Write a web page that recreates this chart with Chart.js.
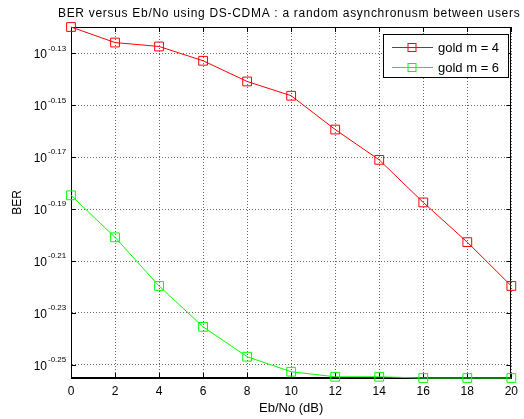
<!DOCTYPE html>
<html>
<head>
<meta charset="utf-8">
<script src="https://cdn.jsdelivr.net/npm/chart.js@4.4.0/dist/chart.umd.min.js"></script>
<style>
    html, body { margin: 0; padding: 0; background: #fff; }
</style>
</head>
<body>
<canvas id="berChart" width="524" height="419"></canvas>
<script>
// Eb/No in dB (x axis)
const ebNo = [0, 2, 4, 6, 8, 10, 12, 14, 16, 18, 20];
// BER
const berGoldM4 = [0.7589, 0.7485, 0.7459, 0.7365, 0.7231, 0.7140, 0.6929, 0.6745, 0.6495, 0.6270, 0.6031];
const berGoldM6 = [0.6536, 0.6297, 0.6031, 0.5816, 0.5664, 0.5589, 0.5564, 0.5564, 0.5558, 0.5558, 0.5558];
const seriesLabels = ['gold m = 4', 'gold m = 6'];
// y ticks are 10^exponent
const yTickExponents = [-0.13, -0.15, -0.17, -0.19, -0.21, -0.23, -0.25];
const chartTitle = 'BER versus Eb/No using DS-CDMA : a random asynchronusm between users';

const FONT = 'Liberation Sans, Arial, Helvetica, sans-serif';

function toPoints(ys) {
    return ebNo.map((x, i) => ({ x: x, y: ys[i] }));
}

// draws the matlab style box, inner ticks, title, y tick labels and the legend
const matlabFrame = {
    id: 'matlabFrame',
    beforeDatasetsDraw(chart) {
        const { ctx, chartArea: a, scales } = chart;
        ctx.save();
        ctx.strokeStyle = '#000';
        ctx.lineWidth = 1;
        ctx.strokeRect(Math.round(a.left) + 0.5, Math.round(a.top) + 0.5,
            Math.round(a.right - a.left) - 1, Math.round(a.bottom - a.top) - 1);
        const tl = 5;
        ctx.beginPath();
        scales.x.ticks.forEach(t => {
            const px = Math.round(scales.x.getPixelForValue(t.value)) + 0.5;
            ctx.moveTo(px, a.bottom); ctx.lineTo(px, a.bottom - tl);
            ctx.moveTo(px, a.top); ctx.lineTo(px, a.top + tl);
        });
        scales.y.ticks.forEach(t => {
            const py = Math.round(scales.y.getPixelForValue(t.value)) + 0.5;
            ctx.moveTo(a.left, py); ctx.lineTo(a.left + tl, py);
            ctx.moveTo(a.right, py); ctx.lineTo(a.right - tl, py);
        });
        ctx.stroke();
        ctx.restore();
    },
    afterDraw(chart) {
        const { ctx, chartArea: a, scales } = chart;
        ctx.save();
        ctx.fillStyle = '#000';

        // title, slightly spaced out like the matlab render
        ctx.font = '12px ' + FONT;
        ctx.letterSpacing = '0.7px';
        ctx.textAlign = 'center';
        ctx.textBaseline = 'middle';
        ctx.fillText(chartTitle, (a.left + a.right) / 2 - 2, 13.5);
        ctx.letterSpacing = '0px';

        // y tick labels as 10^x
        scales.y.ticks.forEach((t, i) => {
            const py = scales.y.getPixelForValue(t.value);
            const right = a.left - 24;
            ctx.font = '12px ' + FONT;
            ctx.textAlign = 'right';
            ctx.textBaseline = 'middle';
            ctx.fillText('10', right, py + 1.5);
            ctx.font = '8px ' + FONT;
            ctx.textAlign = 'left';
            ctx.fillText(yTickExponents[i].toFixed(2), right + 1, py - 5);
        });

        // legend
        const bx = 383, by = 34, bw = 125, bh = 43;
        ctx.fillStyle = '#fff';
        ctx.fillRect(bx, by, bw, bh);
        ctx.strokeStyle = '#000';
        ctx.lineWidth = 1;
        ctx.strokeRect(bx + 0.5, by + 0.5, bw, bh);
        chart.data.datasets.forEach((ds, i) => {
            const ry = Math.round(by + 12.5 + i * 20) + 0.5;
            ctx.strokeStyle = ds.borderColor;
            ctx.beginPath();
            ctx.moveTo(bx + 9, ry); ctx.lineTo(bx + 50, ry);
            ctx.stroke();
            ctx.strokeRect(bx + 25, ry - 4, 8, 8);
            ctx.fillStyle = '#000';
            ctx.font = '13px ' + FONT;
            ctx.textAlign = 'left';
            ctx.textBaseline = 'middle';
            ctx.fillText(ds.label, bx + 55, ry + 0.5);
        });
        ctx.restore();
    }
};

const ctx = document.getElementById('berChart').getContext('2d');
const berChart = new Chart(ctx, {
    type: 'line',
    data: {
        datasets: [
            {
                label: seriesLabels[0],
                data: toPoints(berGoldM4),
                borderColor: '#ff0000',
                backgroundColor: 'rgba(0,0,0,0)',
                borderWidth: 1,
                pointStyle: 'rect',
                pointRadius: 6.2,
                pointBorderWidth: 1,
                pointBackgroundColor: 'rgba(0,0,0,0)',
                clip: false
            },
            {
                label: seriesLabels[1],
                data: toPoints(berGoldM6),
                borderColor: '#00ff00',
                backgroundColor: 'rgba(0,0,0,0)',
                borderWidth: 1,
                pointStyle: 'rect',
                pointRadius: 6.2,
                pointBorderWidth: 1,
                pointBackgroundColor: 'rgba(0,0,0,0)',
                clip: false
            }
        ]
    },
    options: {
        responsive: false,
        animation: false,
        layout: { padding: { left: 0, right: 6, top: 27, bottom: 0 } },
        plugins: {
            legend: { display: false },
            tooltip: { enabled: false },
            title: { display: false }
        },
        scales: {
            x: {
                type: 'linear',
                min: 0,
                max: 20,
                ticks: {
                    stepSize: 2,
                    color: '#000',
                    font: { family: FONT, size: 12 },
                    padding: 6,
                    maxRotation: 0
                },
                grid: { color: 'rgba(0,0,0,0.6)', drawTicks: false, lineWidth: 1 },
                border: { display: true, color: '#000', dash: [1, 2] },
                title: {
                    display: true,
                    text: 'Eb/No (dB)',
                    color: '#000',
                    font: { family: FONT, size: 13 },
                    padding: { top: 0, bottom: 3 }
                },
                afterFit(scale) { scale.height = 41; }
            },
            y: {
                type: 'logarithmic',
                min: Math.min(...berGoldM6),
                max: Math.max(...berGoldM4),
                afterBuildTicks(scale) {
                    scale.ticks = yTickExponents.map(e => ({ value: Math.pow(10, e) }));
                },
                ticks: { display: false },
                grid: { color: 'rgba(0,0,0,0.6)', drawTicks: false, lineWidth: 1 },
                border: { display: true, color: '#000', dash: [1, 2] },
                title: {
                    display: true,
                    text: 'BER',
                    color: '#000',
                    font: { family: FONT, size: 12 },
                    padding: { top: 10, bottom: 0 }
                },
                afterFit(scale) { scale.width = 71; }
            }
        }
    },
    plugins: [matlabFrame]
});
</script>
</body>
</html>
